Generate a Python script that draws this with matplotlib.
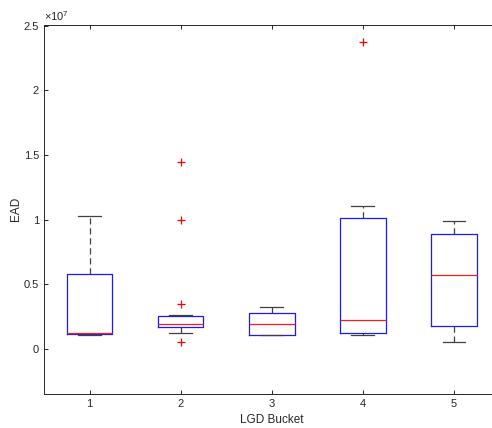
import matplotlib
matplotlib.use("Agg")
import matplotlib.pyplot as plt
from matplotlib.ticker import FuncFormatter

plt.rcParams['font.family'] = ['Liberation Sans', 'DejaVu Sans']
plt.rcParams['mathtext.fontset'] = 'custom'
plt.rcParams['mathtext.rm'] = 'Liberation Sans'

buckets = ["1", "2", "3", "4", "5"]
# values in EAD units
q1 = [0.115e7, 0.165e7, 0.11e7, 0.124e7, 0.18e7]
med = [0.12e7, 0.19e7, 0.19e7, 0.222e7, 0.57e7]
q3 = [0.575e7, 0.255e7, 0.28e7, 1.01e7, 0.888e7]
whislo = [0.11e7, 0.125e7, 0.105e7, 0.108e7, 0.052e7]
whishi = [1.03e7, 0.26e7, 0.327e7, 1.107e7, 0.988e7]
fliers = [[], [1.445e7, 0.996e7, 0.35e7, 0.052e7], [], [2.378e7], []]
yticks = [0, 0.5e7, 1e7, 1.5e7, 2e7, 2.5e7]

stats = []
for i, b in enumerate(buckets):
    stats.append(dict(label=b, q1=q1[i], med=med[i], q3=q3[i],
                      whislo=whislo[i], whishi=whishi[i], fliers=fliers[i]))

fig = plt.figure(figsize=(4.92, 4.28), dpi=100)
W, H = 492, 428
left, right, top, bottom = 44, 499.5, 24.5, 394
ax = fig.add_axes([left / W, 1 - bottom / H, (right - left) / W, (bottom - top) / H])

axcol = '#262626'
ax.bxp(stats, positions=range(1, 6), widths=0.5, showfliers=True,
       boxprops=dict(color='#1a1aff', linewidth=0.9),
       medianprops=dict(color='#ff1a1a', linewidth=0.9),
       whiskerprops=dict(color='#404040', linewidth=0.9, linestyle=(0, (5, 3))),
       capprops=dict(color='#404040', linewidth=0.9),
       capwidths=0.25,
       flierprops=dict(marker='+', markeredgecolor='#ff0000', markersize=6,
                       markeredgewidth=0.9, linestyle='none'))

ax.set_xlim(0.5, 5.5)
ax.set_ylim(-0.35e7, 2.51e7)
ax.set_yticks(yticks)
ax.yaxis.set_major_formatter(FuncFormatter(lambda v, p: f'{v/1e7:g}'))
ax.text(0.0, 1.004, r'$\times\mathregular{10^{7}}$', transform=ax.transAxes,
        fontsize=8, color=axcol, ha='left', va='bottom')

ax.tick_params(direction='in', length=3, width=0.7, colors=axcol, labelsize=8,
               top=True, right=True, labelcolor=axcol)
for s in ax.spines.values():
    s.set_color(axcol)
    s.set_linewidth(0.7)

ax.set_xlabel('LGD Bucket', fontsize=8.5, color=axcol, labelpad=4)
ax.set_ylabel('EAD', fontsize=8.5, color=axcol)
ax.yaxis.set_label_coords((22 - left) / (right - left), 0.5)

fig.savefig('out.png', dpi=100)
